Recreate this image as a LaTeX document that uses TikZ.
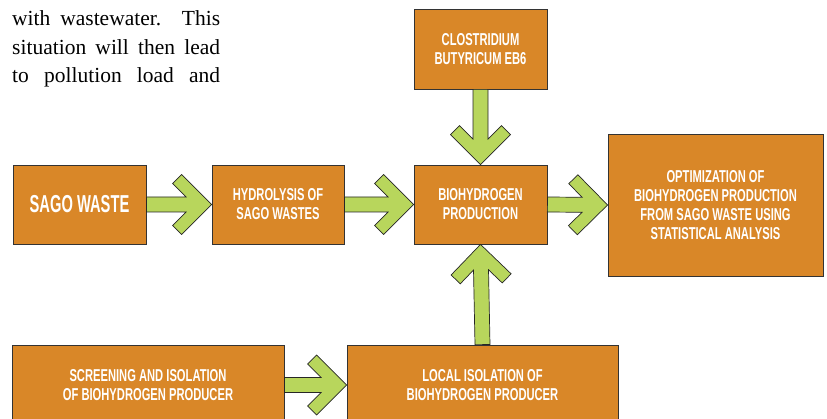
\documentclass[tikz,border=0pt]{standalone}
\usepackage{fontspec}
\setmainfont{Liberation Serif}
\newfontfamily\boxfamily[FakeStretch=0.65]{Liberation Sans}
\newfontfamily\bigboxfamily[FakeStretch=0.6]{Liberation Sans}
\usepackage{xcolor}
\usepackage{tikz}
\usetikzlibrary{calc}

\definecolor{boxorange}{RGB}{217,135,40}
\definecolor{arrowgreen}{RGB}{184,214,92}

\tikzset{
  box/.style={draw=black!80, line width=0.8pt, fill=boxorange, text=white,
    align=center, inner sep=0pt,
    font=\boxfamily\bfseries\fontsize{17.2}{18.9}\selectfont},
  bodytext/.style={anchor=base west, inner sep=0pt,
    font=\fontsize{21.5}{28}\selectfont},
  fatarrow/.style={draw=black!85, line width=0.7pt, fill=arrowgreen,
    to path={let \p1=(\tikztostart), \p2=(\tikztotarget),
      \n1={veclen(\x2-\x1,\y2-\y1)}, \n2={atan2(\y2-\y1,\x2-\x1)} in
      [shift={(\p2)}, rotate=\n2]
      (0pt,0pt) -- (-30pt,30pt) -- (-39pt,21pt) -- (-25.5pt,7.5pt)
      -- (-\n1,7.5pt) -- (-\n1,-7.5pt) -- (-25.5pt,-7.5pt)
      -- (-39pt,-21pt) -- (-30pt,-30pt) -- cycle}}
}

\begin{document}
\begin{tikzpicture}[x=1pt,y=1pt]
    \clip (0,0) rectangle (827,418);
    % Text of the page
    \node[bodytext] (line1) at (12,392) {\makebox[208pt][s]{with wastewater. This}};
    \node[bodytext] (line2) at (12,363.5) {\makebox[208pt][s]{situation will then lead}};
    \node[bodytext] (line3) at (12,335) {\makebox[208pt][s]{to pollution load and}};
    % Boxes
    \node[box, minimum width=133pt, minimum height=79pt,
      font=\bigboxfamily\bfseries\fontsize{24.5}{28}\selectfont] (sago) at (79.5,213.5) {SAGO WASTE};
    \node[box, minimum width=132pt, minimum height=79pt] (hydro) at (278,213.5) {HYDROLYSIS OF\\SAGO WASTES};
    \node[box, minimum width=133pt, minimum height=79pt] (bio) at (480.5,213.5) {BIOHYDROGEN\\PRODUCTION};
    \node[box, minimum width=133pt, minimum height=80pt] (clos) at (480.5,369) {CLOSTRIDIUM\\BUTYRICUM EB6};
    \node[box, minimum width=215pt, minimum height=142pt] (opt) at (715.5,213) {OPTIMIZATION OF\\BIOHYDROGEN PRODUCTION\\FROM SAGO WASTE USING\\STATISTICAL ANALYSIS};
    \node[box, minimum width=272pt, minimum height=80pt] (screen) at (148,33) {SCREENING AND ISOLATION\\OF BIOHYDROGEN PRODUCER};
    \node[box, minimum width=271pt, minimum height=80pt] (local) at (482.5,33) {LOCAL ISOLATION OF\\BIOHYDROGEN PRODUCER};
    % Arrows
    \draw[fatarrow] (sago.east) to (hydro.west);
    \draw[fatarrow] (hydro.east) to (bio.west);
    \draw[fatarrow] (bio.east) to (opt.west);
    \draw[fatarrow] (clos.south) to (bio.north);
    \draw[fatarrow] (local.north) to (bio.south);
    \draw[fatarrow] (screen.east) to (local.west);
\end{tikzpicture}
\end{document}
